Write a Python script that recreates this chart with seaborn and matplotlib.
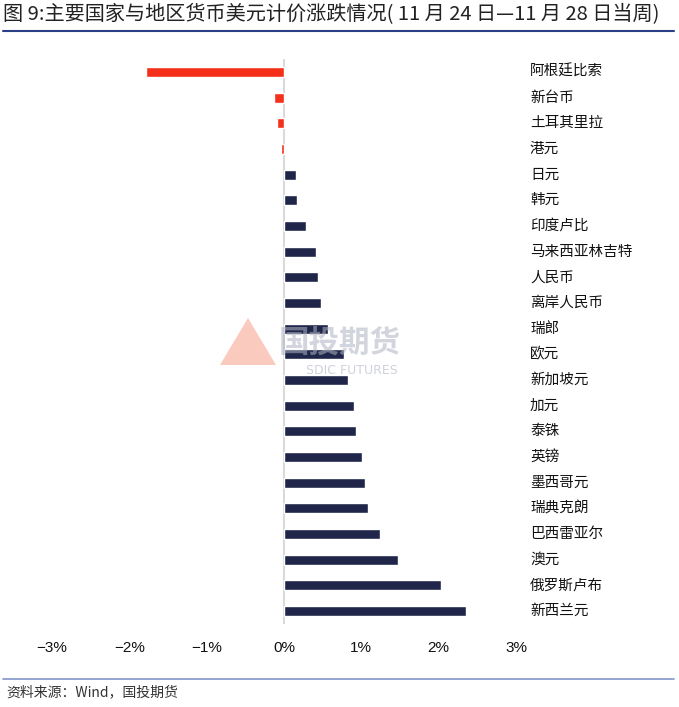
import matplotlib
matplotlib.use("Agg")
import matplotlib.pyplot as plt
import seaborn as sns
import pandas as pd
from matplotlib.patches import Polygon
from matplotlib.lines import Line2D
import matplotlib.transforms as mtransforms

categories = ["阿根廷比索", "新台币", "土耳其里拉", "港元", "日元", "韩元", "印度卢比",
              "马来西亚林吉特", "人民币", "离岸人民币", "瑞郎", "欧元", "新加坡元", "加元",
              "泰铢", "英镑", "墨西哥元", "瑞典克朗", "巴西雷亚尔", "澳元", "俄罗斯卢布", "新西兰元"]
values = [-1.78, -0.13, -0.095, -0.035, 0.155, 0.17, 0.28, 0.41, 0.44, 0.48, 0.57, 0.77,
          0.83, 0.91, 0.93, 1.01, 1.05, 1.09, 1.24, 1.47, 2.03, 2.35]
tick_values = [-3, -2, -1, 0, 1, 2, 3]
tick_labels = ["−3%", "−2%", "−1%", "0%", "1%", "2%", "3%"]
title = "图 9:主要国家与地区货币美元计价涨跌情况( 11 月 24 日—11 月 28 日当周)"
source = "资料来源：Wind，国投期货"

sns.set_style("white")
plt.rcParams['font.family'] = ['Noto Sans CJK SC', 'DejaVu Sans']

W, H = 679, 707
fig = plt.figure(figsize=(W / 100, H / 100), dpi=100)
left_px, right_px = 52, 516
top_px, bot_px = 59, 624
ax = fig.add_axes([left_px / W, 1 - bot_px / H, (right_px - left_px) / W, (bot_px - top_px) / H])

df = pd.DataFrame({"cat": categories, "val": values})
df["sign"] = ["neg" if v < 0 else "pos" for v in values]
sns.barplot(data=df, x="val", y="cat", hue="sign", palette={"neg": "#F5301A", "pos": "#20264A"},
            dodge=False, width=0.39, legend=False, ax=ax, orient="h", saturation=1)

ax.set_xlim(-3, 3)
ax.set_ylim(len(categories) - 0.5, -0.5)
ax.axvline(0, color="#DADADA", lw=1.5, zorder=0)
for s in ax.spines.values():
    s.set_visible(False)
ax.set_xlabel("")
ax.set_ylabel("")
ax.set_yticks([])
ax.set_xticks(tick_values)
ax.set_xticklabels(tick_labels, family=["Liberation Sans", "DejaVu Sans"], fontsize=11,
                   color="#111111")
ax.tick_params(axis="x", length=0, pad=12)

trans = mtransforms.blended_transform_factory(ax.transAxes, ax.transData)
for i, c in enumerate(categories):
    ax.text((530 - left_px) / (right_px - left_px), i, c, transform=trans, ha="left", va="center",
            fontsize=10.5, color="#111111", weight="medium")

# watermark
fig.text(340 / W, 1 - 343 / H, "国投期货", fontsize=22, color="#B0B4C4", alpha=0.55,
         ha="center", va="center", weight="bold")
fig.text(352 / W, 1 - 371 / H, "SDIC FUTURES", fontsize=9, color="#B0B4C4", alpha=0.6,
         ha="center", va="center", family=["DejaVu Sans"])
tri = Polygon([[220 / W, 1 - 365 / H], [248 / W, 1 - 318 / H], [276 / W, 1 - 365 / H]],
              closed=True, transform=fig.transFigure, facecolor="#F6A08C", alpha=0.55,
              edgecolor="none")
fig.patches.append(tri)

# title & rules
fig.text(3 / W, 1 - 15 / H, title, fontsize=14.5, ha="left", va="center", color="#222222")
fig.add_artist(Line2D([3 / W, 674 / W], [1 - 31 / H, 1 - 31 / H], color="#2B3F86", lw=1.5,
                      transform=fig.transFigure))
fig.add_artist(Line2D([3 / W, 674 / W], [1 - 679 / H, 1 - 679 / H], color="#7F95C8", lw=1.2,
                      transform=fig.transFigure))
fig.text(6 / W, 1 - 692 / H, source, fontsize=10, ha="left", va="center", color="#333333",
         style="italic")

fig.savefig("out.png", dpi=100)
